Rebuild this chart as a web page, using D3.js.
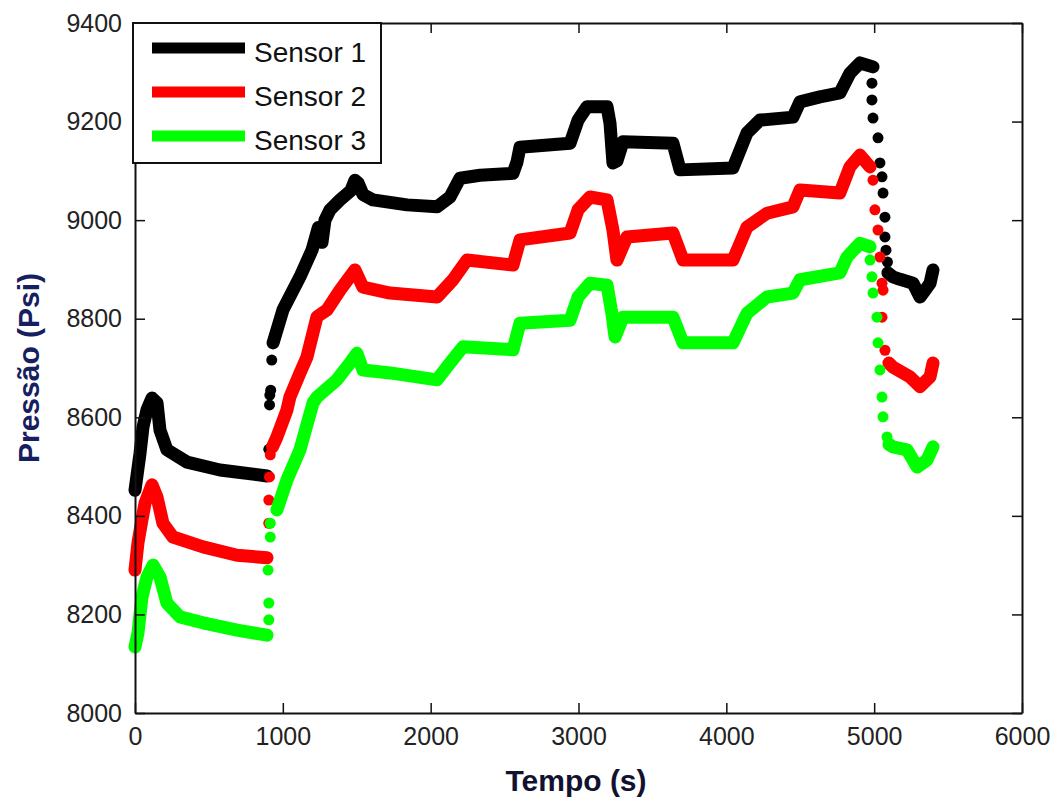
<!DOCTYPE html>
<html>
<head>
<meta charset="utf-8">
<script src="https://cdn.jsdelivr.net/npm/d3@7"></script>
<style>
  body { margin: 0; background: #fff; }
  text { font-family: "Liberation Sans", Arial, sans-serif; }
  .tick-label { font-size: 25px; fill: #222; }
  .legend-label { font-size: 28px; fill: #111; }
</style>
</head>
<body>
<svg id="chart" width="1059" height="800"></svg>
<script>
// values: [tempo (s), pressao (psi)]
// dense parts are drawn as a thick marker trail, sparse parts as single markers

var sensor1Dense = [
  [[0,8452],[34,8527],[54,8580],[81,8615],[115,8639],[149,8629],[169,8574],[216,8534],[352,8509],[575,8493],[893,8481]],
  [[934,8751],[1001,8818],[1116,8885],[1197,8939],[1240,8985],[1265,8955],[1285,9000],[1319,9021],[1387,9041],[1460,9060],
   [1488,9081],[1510,9075],[1542,9052],[1610,9041],[1840,9031],[2043,9027],[2131,9047],[2198,9085],[2334,9091],[2557,9095],
   [2584,9118],[2604,9148],[2943,9156],[2997,9203],[3057,9230],[3193,9230],[3213,9197],[3233,9116],[3260,9120],[3301,9159],
   [3639,9156],[3687,9102],[4045,9106],[4140,9177],[4227,9203],[4451,9209],[4498,9240],[4633,9250],[4768,9258],[4836,9298],
   [4904,9319],[4992,9311]],
  [[5093,8893],[5127,8885],[5175,8880],[5263,8872],[5310,8844],[5350,8860],[5378,8872],[5398,8899]]
];
var sensor1Sparse = [[905,8535],[910,8625],[912,8645],[918,8655],[925,8716],
  [4985,9278],[4985,9244],[4992,9207],[5026,9167],[5039,9116],[5053,9088],[5060,9055],[5073,9006],[5073,8966],[5080,8939],[5090,8915]];

var sensor2Dense = [
  [[0,8290],[20,8345],[47,8392],[68,8426],[115,8463],[149,8438],[189,8385],[257,8357],[460,8337],[690,8320],[893,8315]],
  [[930,8540],[960,8560],[1028,8615],[1048,8641],[1116,8690],[1163,8722],[1231,8804],[1299,8818],[1387,8858],[1488,8899],
   [1542,8864],[1725,8852],[2043,8844],[2151,8879],[2246,8919],[2557,8909],[2604,8960],[2943,8974],[2997,9021],[3078,9047],
   [3193,9041],[3233,8980],[3260,8919],[3328,8966],[3639,8974],[3707,8919],[4045,8919],[4140,8986],[4275,9014],[4451,9027],
   [4498,9061],[4768,9055],[4836,9108],[4904,9132],[4972,9108]],
  [[5100,8710],[5127,8702],[5242,8682],[5310,8662],[5378,8682],[5398,8710]]
];
var sensor2Sparse = [[905,8385],[905,8432],[910,8479],[915,8524],
  [4992,9081],[5005,9021],[5026,8980],[5039,8925],[5053,8872],[5053,8803],[5060,8858],[5073,8736]];

var sensor3Dense = [
  [[0,8134],[20,8162],[47,8235],[81,8276],[122,8300],[169,8276],[216,8223],[304,8195],[460,8183],[690,8168],[893,8158]],
  [[960,8412],[1028,8473],[1116,8534],[1204,8629],[1231,8641],[1366,8676],[1454,8710],[1501,8730],[1542,8696],[1725,8690],
   [2043,8676],[2131,8710],[2219,8743],[2557,8737],[2604,8791],[2943,8797],[2997,8844],[3078,8872],[3193,8868],[3226,8811],
   [3247,8763],[3301,8803],[3639,8803],[3707,8751],[4045,8751],[4140,8811],[4275,8844],[4451,8852],[4498,8879],[4768,8893],
   [4816,8925],[4904,8953],[4972,8946]],
  [[5100,8545],[5127,8540],[5222,8534],[5290,8499],[5357,8513],[5398,8540]]
];
var sensor3Sparse = [[905,8189],[905,8223],[900,8290],[915,8357],[915,8385],
  [4972,8919],[4985,8885],[4992,8852],[5019,8803],[5026,8751],[5039,8696],[5053,8641],[5060,8601],[5087,8560]];

var seriesNames = ["Sensor 1", "Sensor 2", "Sensor 3"];
var seriesColors = ["#000000", "#ff0000", "#00ff00"];
var xTicks = [0, 1000, 2000, 3000, 4000, 5000, 6000];
var yTicks = [8000, 8200, 8400, 8600, 8800, 9000, 9200, 9400];

var svg = d3.select("#chart");
var mLeft = 135, mRight = 1022, mTop = 23, mBottom = 713;

var x = d3.scaleLinear().domain([0, 6000]).range([mLeft, mRight]);
var y = d3.scaleLinear().domain([8000, 9400]).range([mBottom, mTop]);

var line = d3.line()
  .x(function(d) { return x(d[0]); })
  .y(function(d) { return y(d[1]); });

// data
var dense = [sensor1Dense, sensor2Dense, sensor3Dense];
var sparse = [sensor1Sparse, sensor2Sparse, sensor3Sparse];

dense.forEach(function(segs, i) {
  svg.append("g")
    .selectAll("path")
    .data(segs)
    .enter().append("path")
      .attr("d", line)
      .attr("fill", "none")
      .attr("stroke", seriesColors[i])
      .attr("stroke-width", 13)
      .attr("stroke-linejoin", "round")
      .attr("stroke-linecap", "round");

  svg.append("g")
    .selectAll("circle")
    .data(sparse[i])
    .enter().append("circle")
      .attr("cx", function(d) { return x(d[0]); })
      .attr("cy", function(d) { return y(d[1]); })
      .attr("r", 5.5)
      .attr("fill", seriesColors[i]);
});

// axes box
var fmt = d3.format("d");
var axB = d3.axisBottom(x).tickValues(xTicks).tickSizeInner(-10).tickSizeOuter(0).tickPadding(14).tickFormat(fmt);
var axL = d3.axisLeft(y).tickValues(yTicks).tickSizeInner(-10).tickSizeOuter(0).tickPadding(13).tickFormat(fmt);
var axT = d3.axisTop(x).tickValues(xTicks).tickSizeInner(-10).tickSizeOuter(0).tickFormat("");
var axR = d3.axisRight(y).tickValues(yTicks).tickSizeInner(-10).tickSizeOuter(0).tickFormat("");

svg.append("g").attr("transform", "translate(0," + mBottom + ")").call(axB);
svg.append("g").attr("transform", "translate(" + mLeft + ",0)").call(axL);
svg.append("g").attr("transform", "translate(0," + mTop + ")").call(axT);
svg.append("g").attr("transform", "translate(" + mRight + ",0)").call(axR);

svg.selectAll(".domain").attr("stroke", "#111").attr("stroke-width", 2);
svg.selectAll(".tick line").attr("stroke", "#111").attr("stroke-width", 1.5);
svg.selectAll(".tick text").attr("class", "tick-label").attr("font-family", null).attr("font-size", null);

// legend
var legend = svg.append("g");
legend.append("rect")
  .attr("x", 133).attr("y", mTop)
  .attr("width", 248).attr("height", 140)
  .attr("fill", "#fff").attr("stroke", "#111").attr("stroke-width", 2);

seriesNames.forEach(function(name, i) {
  var ly = 48 + i * 44;
  legend.append("line")
    .attr("x1", 152).attr("x2", 245)
    .attr("y1", ly).attr("y2", ly)
    .attr("stroke", seriesColors[i])
    .attr("stroke-width", 11);
  legend.append("text")
    .attr("class", "legend-label")
    .attr("x", 254).attr("y", ly + 14)
    .text(name);
});

// axis titles
svg.append("text")
  .attr("x", 576).attr("y", 791)
  .attr("text-anchor", "middle")
  .attr("font-size", 30).attr("font-weight", "bold")
  .attr("fill", "#121230")
  .text("Tempo (s)");

svg.append("text")
  .attr("transform", "translate(39,368) rotate(-90)")
  .attr("text-anchor", "middle")
  .attr("font-size", 30).attr("font-weight", "bold")
  .attr("fill", "#16205e")
  .text("Pressão (Psi)");
</script>
</body>
</html>
